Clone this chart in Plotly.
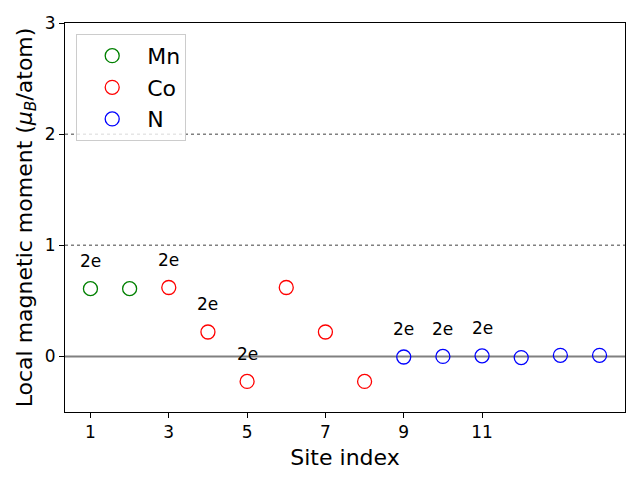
import plotly.graph_objects as go

# site indices and local magnetic moments (mu_B/atom)
mn_sites = [1, 2]
mn_moments = [0.61, 0.61]
co_sites = [3, 4, 5, 6, 7, 8]
co_moments = [0.62, 0.22, -0.225, 0.62, 0.22, -0.225]
n_sites = [9, 10, 11, 12, 13, 14]
n_moments = [-0.005, 0.0, 0.005, -0.01, 0.01, 0.01]

# sites carrying a "2e" label
label_sites = [1, 3, 4, 5, 9, 10, 11]
label_text = "2e"

x_ticks = [1, 3, 5, 7, 9, 11]
y_ticks = [0, 1, 2, 3]

FONT = "DejaVu Sans"

fig = go.Figure()

for name, xs, ys, col in [("Mn", mn_sites, mn_moments, "green"),
                          ("Co", co_sites, co_moments, "red"),
                          ("N", n_sites, n_moments, "blue")]:
    fig.add_trace(go.Scatter(
        x=xs, y=ys, mode="markers", name=name,
        marker=dict(symbol="circle-open", size=14, color=col,
                    line=dict(width=1.3, color=col))
    ))

# reference lines
fig.add_hline(y=0, line=dict(color="gray", width=2), layer="below")
fig.add_hline(y=1, line=dict(color="gray", width=1.5, dash="dot"), layer="below")
fig.add_hline(y=2, line=dict(color="gray", width=1.5, dash="dot"), layer="below")

all_sites = mn_sites + co_sites + n_sites
all_moments = mn_moments + co_moments + n_moments
for s in label_sites:
    m = all_moments[all_sites.index(s)]
    fig.add_annotation(x=s, y=m + 0.25, text=label_text, showarrow=False,
                       yanchor="middle", font=dict(family=FONT, size=17, color="black"))

axis_common = dict(showline=True, linecolor="black", linewidth=1, mirror=True,
                   ticks="outside", ticklen=5, tickcolor="black", showgrid=False,
                   zeroline=False, tickfont=dict(family=FONT, size=17, color="black"))

# page body has an 8px margin, so the figure is sized/offset to compensate
fig.update_layout(
    width=632, height=472,
    plot_bgcolor="white", paper_bgcolor="white",
    margin=dict(l=57, r=15, t=15, b=68, autoexpand=False),
    xaxis=dict(range=[0.35, 14.65], tickvals=x_ticks,
               title=dict(text="Site index", font=dict(family=FONT, size=22, color="black"),
                          standoff=8),
               **axis_common),
    yaxis=dict(range=[-0.5, 3], tickvals=y_ticks,
               title=dict(text="Local magnetic moment (<i>μ</i><sub><i>B</i></sub>/atom)",
                          font=dict(family=FONT, size=22, color="black"), standoff=6),
               **axis_common),
    legend=dict(x=0.02, y=0.972, xanchor="left", yanchor="top",
                font=dict(family=FONT, size=22, color="black"),
                bgcolor="rgba(255,255,255,0.8)", bordercolor="#cccccc", borderwidth=1,
                itemsizing="trace", itemwidth=60),
    showlegend=True,
)

fig.write_html("out.html")
